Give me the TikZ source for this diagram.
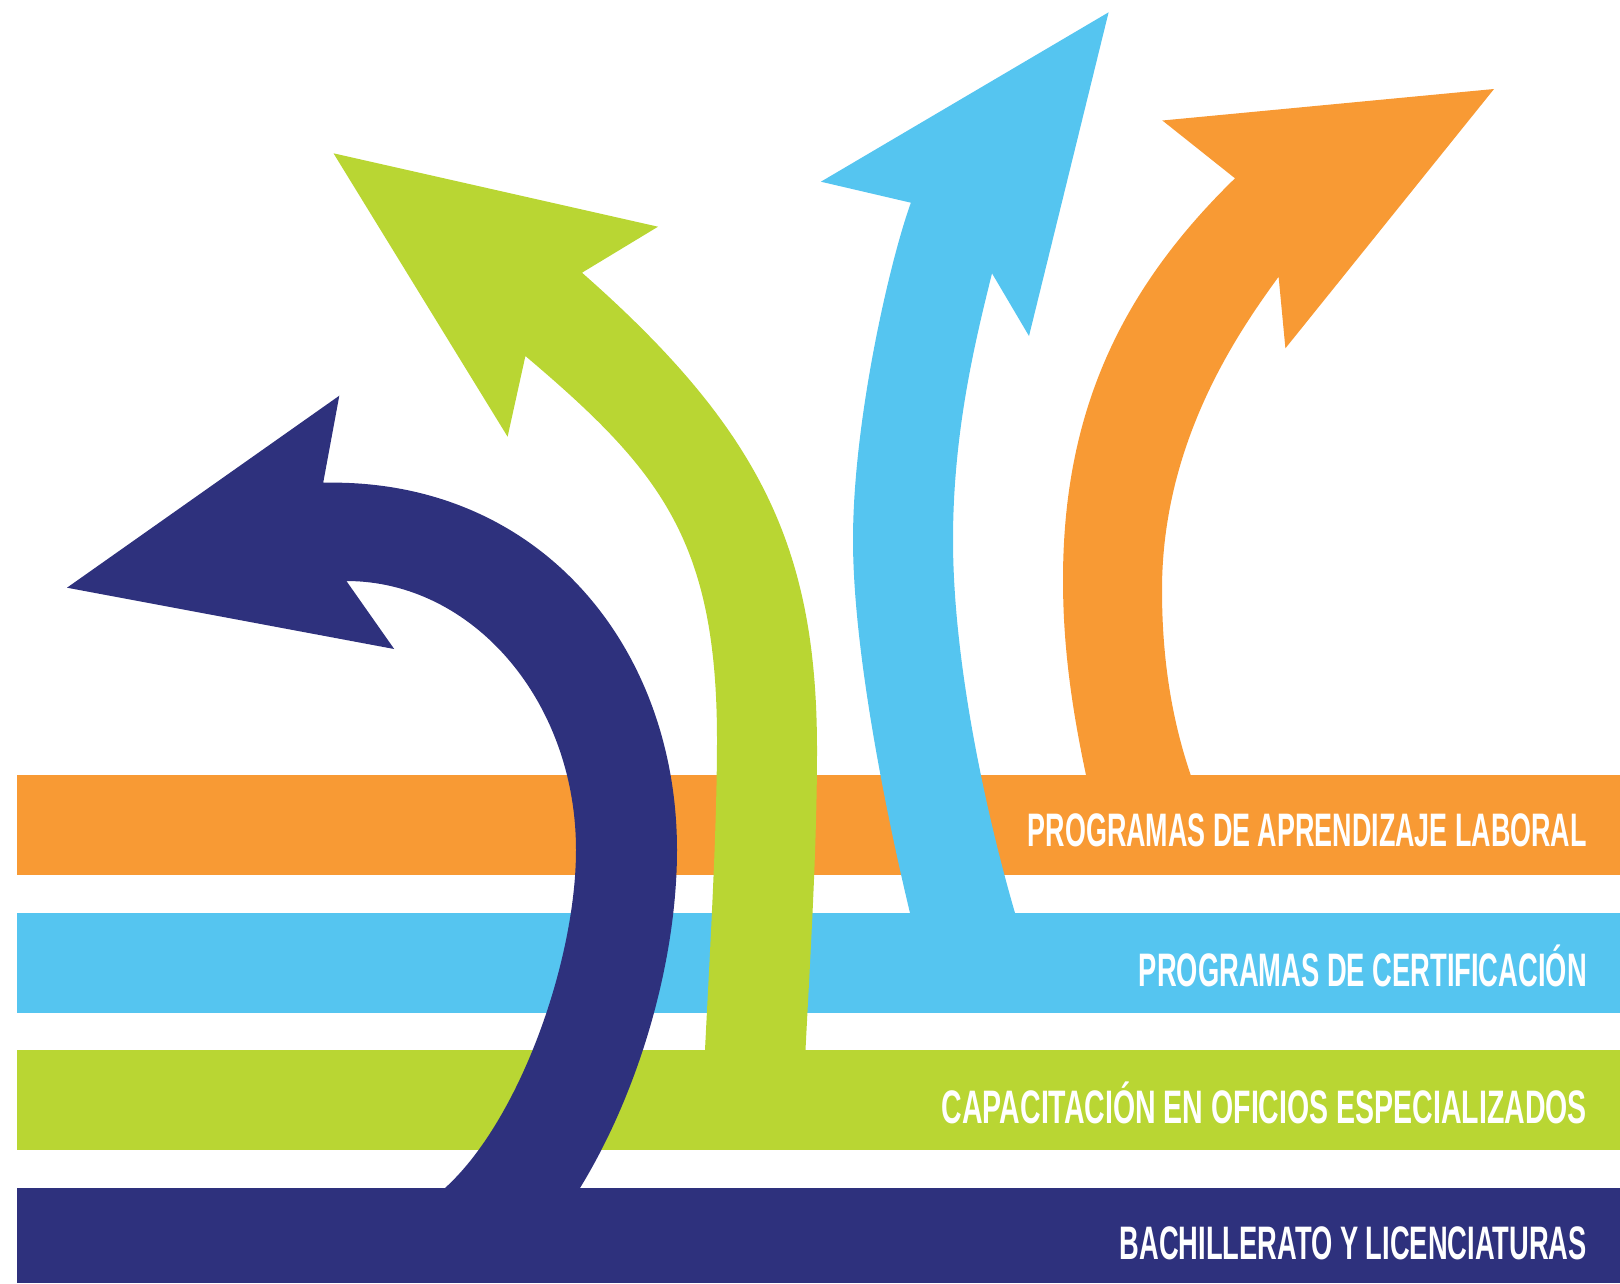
\documentclass[tikz,border=0pt]{standalone}
\usepackage{fontspec}
\setmainfont{Liberation Sans}
\usepackage{graphicx}
\definecolor{cOrange}{HTML}{F89A34}
\definecolor{cBlue}{HTML}{55C5F0}
\definecolor{cGreen}{HTML}{B9D633}
\definecolor{cNavy}{HTML}{2E317D}
\begin{document}
\begin{tikzpicture}[x=1pt,y=-1pt,
  band/.style={fill=#1, draw=none},
  arrowbody/.style={fill=#1, draw=none},
  lbl/.style={anchor=base east, inner sep=0pt, text=white, font=\fontsize{47}{47}\selectfont\bfseries}]
\useasboundingbox (0,0) rectangle (1620,1283);
% bands
\fill[band=cOrange] (17,775) rectangle (1620,875);
\fill[band=cBlue] (17,913) rectangle (1620,1013);
\fill[band=cGreen] (17,1050) rectangle (1620,1150);
\fill[band=cNavy] (17,1188) rectangle (1620,1283);
% orange arrow
\fill[arrowbody=cOrange] (1088,790) -- (1086,775)
  .. controls (1070,700) and (1063,640) .. (1063,580)
  .. controls (1063,420) and (1115,295) .. (1235,178.3)
  -- (1162.4,120.5) -- (1494,89) -- (1285.4,348.3) -- (1278.6,276.7)
  .. controls (1240,330) and (1162,440) .. (1162,590)
  .. controls (1162,660) and (1172,720) .. (1190.7,775)
  -- (1195,790) -- cycle;
% blue arrow
\fill[arrowbody=cBlue] (913,925) -- (910,913)
  .. controls (886,813) and (853,650) .. (853,540)
  .. controls (853,420) and (890,260) .. (910.9,202.7)
  -- (820.9,181.7) -- (1108.6,12.3) -- (1029,336) -- (992,273.3)
  .. controls (976,338) and (953,430) .. (953,540)
  .. controls (953,660) and (985,810) .. (1015,913)
  -- (1018,925) -- cycle;
% green arrow
\fill[arrowbody=cGreen] (704.5,1062) -- (705,1050)
  .. controls (710,950) and (717,830) .. (717,740)
  .. controls (717,540) and (660,470) .. (525.4,356)
  -- (507.6,436.7) -- (333.5,153.3) -- (658,226.7) -- (582,272.7)
  .. controls (762,431) and (817,550) .. (817,750)
  .. controls (817,850) and (810,960) .. (805.5,1050)
  -- (805,1062) -- cycle;
% navy arrow
\fill[arrowbody=cNavy] (432,1200) -- (445,1188)
  .. controls (520,1120) and (576,960) .. (576,850)
  .. controls (576,701.4) and (473,581) .. (346.4,581)
  -- (394.2,649) -- (67,587.7) -- (339.3,395.7) -- (323.2,482.7)
  .. controls (540,478) and (677,647.3) .. (677,850)
  .. controls (677,960) and (640,1090) .. (580,1188)
  -- (573,1200) -- cycle;
% labels
\node[lbl] (t1) at (1587,846) {\resizebox{559pt}{\height}{PROGRAMAS DE APRENDIZAJE LABORAL}};
\node[lbl] (t2) at (1587,986) {\resizebox{448pt}{\height}{PROGRAMAS DE CERTIFICACIÓN}};
\node[lbl] (t3) at (1587,1123.5) {\resizebox{645pt}{\height}{CAPACITACIÓN EN OFICIOS ESPECIALIZADOS}};
\node[lbl] (t4) at (1587,1259.5) {\resizebox{467pt}{\height}{BACHILLERATO Y LICENCIATURAS}};
\end{tikzpicture}
\end{document}
